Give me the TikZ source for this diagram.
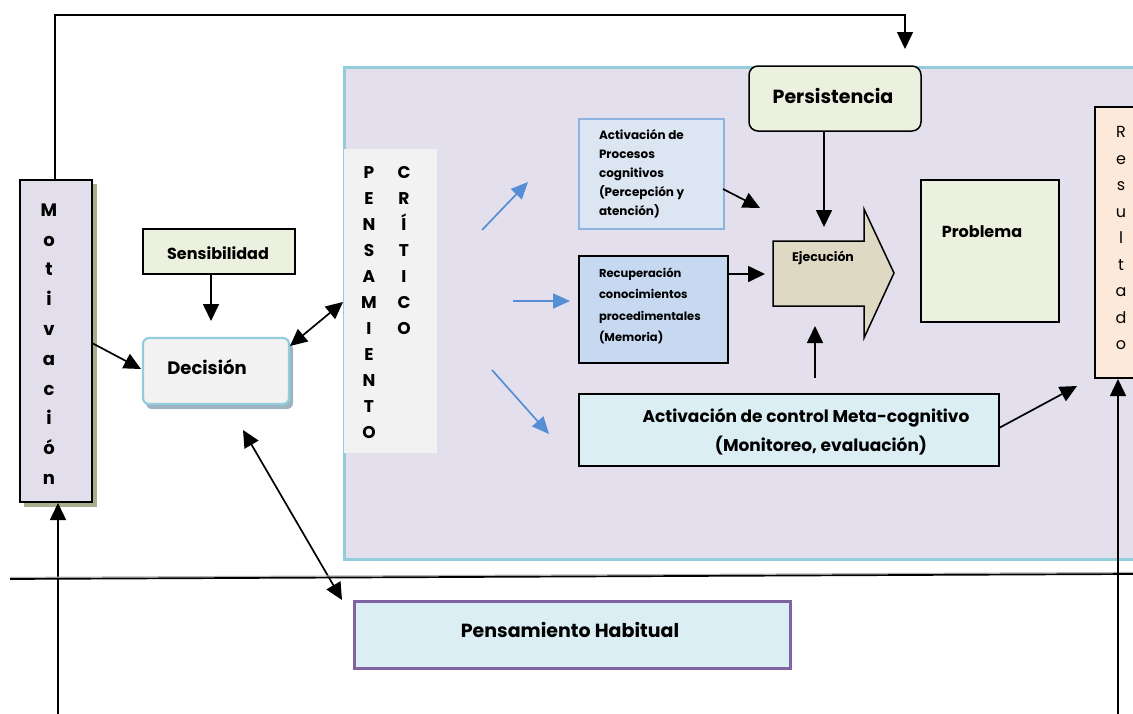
\documentclass[tikz,border=0pt]{standalone}
\usepackage{fontspec}
\setmainfont{Poppins}
\usetikzlibrary{arrows.meta}
\definecolor{lav}{HTML}{E4DFEC}
\definecolor{panelb}{HTML}{92CDDC}
\definecolor{motfill}{HTML}{E3DEEB}
\definecolor{olive}{HTML}{A6AF8B}
\definecolor{greenf}{HTML}{EBF1DE}
\definecolor{grayf}{HTML}{F2F2F2}
\definecolor{decshadow}{HTML}{9EB3C2}
\definecolor{actf}{HTML}{DCE6F2}
\definecolor{actb}{HTML}{8DB3E2}
\definecolor{recf}{HTML}{C6D9F1}
\definecolor{metaf}{HTML}{DBEEF4}
\definecolor{ejef}{HTML}{DDD9C3}
\definecolor{resf}{HTML}{FDE9D9}
\definecolor{phb}{HTML}{8064A2}
\definecolor{arrblue}{HTML}{558ED5}
\tikzset{
  bx/.style={anchor=north west, inner sep=0pt, outer sep=0pt},
  blk/.style={bx, draw=black, line width=1.6pt},
  arr/.style={-{Triangle[length=17pt,width=16pt]}, line width=1.7pt},
  dbl/.style={{Triangle[length=17pt,width=16pt]}-{Triangle[length=17pt,width=16pt]}, line width=1.7pt},
  barr/.style={-{Triangle[length=17pt,width=15pt]}, line width=1.7pt, draw=arrblue, color=arrblue},
}
\begin{document}
\begin{tikzpicture}[x=1pt,y=-1pt]
\useasboundingbox (0,0) rectangle (1133,713);
\clip (0,0) rectangle (1133,713);
% big panel
\node[bx, draw=panelb, line width=3pt, fill=lav, minimum width=800, minimum height=492] (panel) at (344,67) {};
% Motivacion
\fill[olive] (24,184) rectangle (97,507);
\node[blk, line width=2.2pt, fill=motfill, minimum width=72, minimum height=322] (mot) at (20,180) {};
\node[font=\bfseries\fontsize{18}{29.8}\selectfont, align=center] (motlet) at (49,344) {M\\o\\t\\i\\v\\a\\c\\i\\ó\\n};
% top connector
\coordinate (topl) at (55,15);
\coordinate (topr) at (905,15);
\coordinate (topend) at (905,49);
\draw[arr, line width=1.5pt] (mot.north -| topl) -- (topl) -- (topr) -- (topend);
% bottom arrow into Motivacion
\coordinate (motbot) at (58,716);
\draw[arr, line width=1.5pt] (motbot) -- (58,503);
% Sensibilidad
\node[blk, line width=1.3pt, fill=greenf, minimum width=152, minimum height=45] (sens) at (143,229) {};
\node[font=\bfseries\fontsize{16}{18}\selectfont] (senst) at (218,253) {Sensibilidad};
% Decision
\fill[decshadow, rounded corners=6pt] (146,343) rectangle (293,409);
\node[bx, draw=panelb, line width=2.2pt, fill=grayf, rounded corners=6pt, minimum width=146, minimum height=66] (dec) at (143,338) {};
\node[font=\bfseries\fontsize{18}{20}\selectfont] (dect) at (207,367) {Decisión};
\coordinate (decin) at (211,321);
\draw[arr] (sens.south -| decin) -- (decin);
\coordinate (motout) at (92,343);
\coordinate (decleft) at (141,369);
\draw[arr] (motout) -- (decleft);
% Pensamiento critico box
\node[bx, fill=grayf, minimum width=93, minimum height=304] (pc) at (344,149) {};
\node[font=\bfseries\fontsize{17}{26}\selectfont, align=center] (pc1) at (369,303) {P\\E\\N\\S\\A\\M\\I\\E\\N\\T\\O};
\node[font=\bfseries\fontsize{17}{26}\selectfont, align=center] (pc2) at (404,251) {C\\R\\Í\\T\\I\\C\\O};
\coordinate (decr) at (290,346);
\coordinate (pcl) at (343,302);
\draw[dbl] (decr) -- (pcl);
% Decision <-> Pensamiento habitual
\coordinate (decbot) at (243,430);
\coordinate (phtip) at (342,600);
\draw[dbl] (decbot) -- (phtip);
% horizontal line
\coordinate (hl) at (10,579);
\coordinate (hr) at (1133,574);
\draw[gray!60, line width=1.2pt] ([yshift=1.5pt]hl) -- ([yshift=1.5pt]hr);
\draw[line width=1.7pt] (hl) -- (hr);
% Pensamiento habitual
\node[bx, draw=phb, line width=3pt, fill=metaf, minimum width=436, minimum height=67] (ph) at (354,601) {};
\node[font=\bfseries\fontsize{19}{22}\selectfont] (pht) at (570,630) {Pensamiento Habitual};
% Activacion procesos
\node[bx, draw=actb, line width=1.5pt, fill=actf, minimum width=145, minimum height=110] (act) at (579,119) {};
\node[bx, font=\bfseries\fontsize{12}{19}\selectfont, align=left] (actt) at (599,129) {Activación de\\Procesos\\cognitivos\\(Percepción y\\atención)};
% Recuperacion
\node[blk, line width=1.5pt, fill=recf, minimum width=149, minimum height=107] (rec) at (579,256) {};
\node[bx, font=\bfseries\fontsize{11.5}{21.3}\selectfont, align=left] (rect) at (599,268) {Recuperación\\conocimientos\\procedimentales\\(Memoria)};
% Meta-cognitivo
\node[blk, line width=1.5pt, fill=metaf, minimum width=420, minimum height=72] (meta) at (579,394) {};
\node[font=\bfseries\fontsize{17}{29}\selectfont, align=center] (metat) at (806,432) {Activación de control Meta-cognitivo\\\hspace*{30pt}(Monitoreo, evaluación)};
% blue arrows
\coordinate (b1s) at (482,230); \coordinate (b1e) at (528,182);
\coordinate (b2s) at (513,301); \coordinate (b2e) at (570,301);
\coordinate (b3s) at (492,370); \coordinate (b3e) at (549,434);
\draw[barr] (b1s) -- (b1e);
\draw[barr] (b2s) -- (b2e);
\draw[barr] (b3s) -- (b3e);
% Persistencia
\node[blk, line width=1.5pt, fill=greenf, rounded corners=9pt, minimum width=172, minimum height=65] (pers) at (749,66) {};
\node[font=\bfseries\fontsize{19}{22}\selectfont] (perst) at (833,96) {Persistencia};
% Ejecucion arrow shape
\draw[line width=1.5pt, fill=ejef] (773,241) -- (864,241) -- (864,209) -- (894,273) -- (864,338) -- (864,306) -- (773,306) -- cycle;
\node[font=\bfseries\fontsize{12.5}{14}\selectfont] (eje) at (823,258) {Ejecución};
\coordinate (ejetop) at (824,227);
\draw[arr] (pers.south -| ejetop) -- (ejetop);
\coordinate (ejeb) at (815,326);
\coordinate (ejebs) at (815,378);
\draw[arr] (ejebs) -- (ejeb);
\coordinate (actout) at (723,189);
\coordinate (actend) at (760,208);
\draw[arr] (actout) -- (actend);
\coordinate (recout) at (728,274);
\coordinate (recend) at (765,274);
\draw[arr] (recout) -- (recend);
% Problema
\node[blk, line width=1.5pt, fill=greenf, minimum width=138, minimum height=142] (prob) at (921,180) {};
\node[font=\bfseries\fontsize{16}{19}\selectfont] (probt) at (982,232) {Problema};
% Resultado
\node[blk, line width=1.5pt, fill=resf, minimum width=60, minimum height=271] (res) at (1095,107) {};
\node[font=\fontsize{16}{26.5}\selectfont, align=center] (rest) at (1121,238) {R\\e\\s\\u\\l\\t\\a\\d\\o};
\coordinate (resbot) at (1118,716);
\draw[arr, line width=1.5pt] (resbot) -- (1118,379);
\coordinate (metaout) at (999,428);
\coordinate (metaend) at (1077,386);
\draw[arr] (metaout) -- (metaend);
\end{tikzpicture}
\end{document}
